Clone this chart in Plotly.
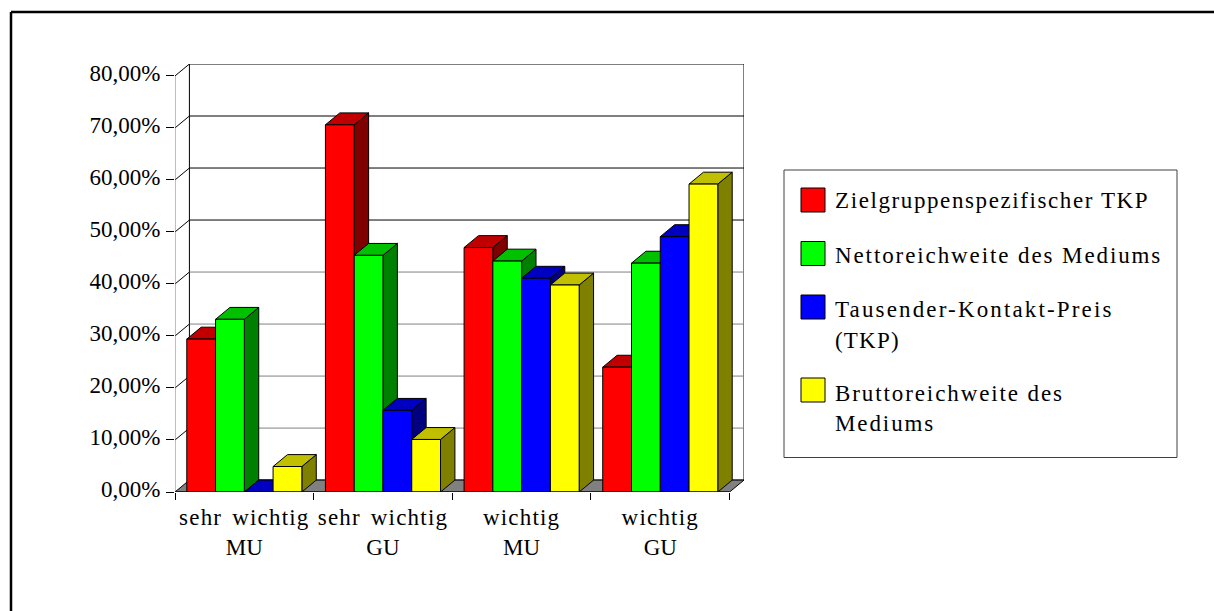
import plotly.graph_objects as go

categories = ["sehr wichtig<br>MU", "sehr wichtig<br>GU", "wichtig<br>MU", "wichtig<br>GU"]
zielgruppen_tkp = [29.4, 70.6, 47.0, 24.0]
nettoreichweite = [33.2, 45.5, 44.4, 44.0]
tkp = [0.0, 15.7, 41.1, 49.1]
bruttoreichweite = [4.9, 10.1, 39.8, 59.2]
series_names = [
    ["Zielgruppenspezifischer TKP"],
    ["Nettoreichweite des Mediums"],
    ["Tausender-Kontakt-Preis", "(TKP)"],
    ["Bruttoreichweite des", "Mediums"],
]
y_ticks = [0, 10, 20, 30, 40, 50, 60, 70, 80]
y_labels = ["0,00%", "10,00%", "20,00%", "30,00%", "40,00%", "50,00%", "60,00%", "70,00%", "80,00%"]

FRONT = ["#FF0000", "#00FF00", "#0000FF", "#FFFF00"]
TOP = ["#C00000", "#00C000", "#0000C0", "#C0C000"]
SIDE = ["#800000", "#008000", "#000080", "#808000"]
FONT = "Liberation Serif"
FS = 23

# geometry of the oblique projection
L, R_BACK, T_BACK, B = 175, 744, 64, 492
CAT_PX = 138.6
PX_PER_UNIT = 5.196
DX = 14.4 / CAT_PX            # depth in category units
DY = 11.9 / PX_PER_UNIT       # depth in value units
GAP = 0.085
BAR_W = (1 - 2 * GAP) / 4


def poly(fig, xs, ys, fill, line="#000000"):
    fig.add_trace(go.Scatter(
        x=xs + xs[:1], y=ys + ys[:1], mode="lines", fill="toself", fillcolor=fill,
        line=dict(color=line, width=1), hoverinfo="skip", showlegend=False, cliponaxis=False))


def seg(fig, xs, ys, color="#000000"):
    fig.add_trace(go.Scatter(
        x=xs, y=ys, mode="lines", line=dict(color=color, width=1),
        hoverinfo="skip", showlegend=False, cliponaxis=False))


fig = go.Figure()

# back wall and floor
poly(fig, [DX, 4 + DX, 4 + DX, DX], [DY, DY, 80 + DY, 80 + DY], "#FFFFFF")
for t in y_ticks[1:-1]:
    c = "#000000" if t >= 50 else "#808080"
    seg(fig, [DX, 4 + DX], [t + DY, t + DY], c)
for t in y_ticks[1:]:
    seg(fig, [0, DX], [t, t + DY])
poly(fig, [0, 4, 4 + DX, DX], [0, 0, DY, DY], "#808080")
seg(fig, [0, 0], [0, 80], "#808080")

# bars, painted left to right
all_values = [zielgruppen_tkp, nettoreichweite, tkp, bruttoreichweite]
for c in range(len(categories)):
    for s, vals in enumerate(all_values):
        v = vals[c]
        x0 = c + GAP + s * BAR_W
        x1 = x0 + BAR_W
        poly(fig, [x1, x1 + DX, x1 + DX, x1], [0, DY, v + DY, v], SIDE[s])
        poly(fig, [x0, x1, x1 + DX, x0 + DX], [v, v, v + DY, v + DY], TOP[s])
        poly(fig, [x0, x1, x1, x0], [0, 0, v, v], FRONT[s])
seg(fig, [0, 4], [0, 0])

W, H = 1214, 611
PW, PH = R_BACK - L, B - T_BACK


def px(x):
    return (x - L) / PW


def py(y):
    return (B - y) / PH


shapes = [
    dict(type="line", xref="paper", yref="paper", x0=px(11), x1=px(11), y0=py(12), y1=py(611),
         line=dict(color="#000000", width=2.5)),
    dict(type="line", xref="paper", yref="paper", x0=px(11), x1=px(1214), y0=py(12), y1=py(12),
         line=dict(color="#000000", width=2.5)),
    dict(type="rect", xref="paper", yref="paper", x0=px(784), x1=px(1177), y0=py(170), y1=py(457.5),
         line=dict(color="#404040", width=1), fillcolor="#FFFFFF"),
]
swatch_y = [188, 241.5, 295, 378]
text_y = [[201], [255], [309, 340], [393, 423]]
annotations = []
for i, name in enumerate(series_names):
    shapes.append(dict(type="rect", xref="paper", yref="paper", x0=px(801), x1=px(825),
                       y0=py(swatch_y[i]), y1=py(swatch_y[i] + 24),
                       line=dict(color="#000000", width=1), fillcolor=FRONT[i]))
    for line, y in zip(name, text_y[i]):
        annotations.append(dict(
            xref="paper", yref="paper", x=px(833), y=py(y), text=line,
            showarrow=False, xanchor="left", yanchor="middle", align="left",
            font=dict(family=FONT, size=FS, color="#000000")))

fig.update_layout(
    width=W, height=H, margin=dict(l=L, r=W - R_BACK, t=T_BACK, b=H - B, pad=0),
    autosize=False, paper_bgcolor="#FFFFFF", plot_bgcolor="#FFFFFF", showlegend=False,
    shapes=shapes, annotations=annotations,
    font=dict(family=FONT, size=FS, color="#000000"),
    xaxis=dict(range=[0, 4 + DX], tickmode="array", tickvals=[0.5, 1.5, 2.5, 3.5],
               ticktext=categories, ticks="", showgrid=False, zeroline=False, showline=False,
               ticklabelstandoff=9, tickangle=0,
               minor=dict(tickmode="array", tickvals=[0, 1, 2, 3, 4], ticks="outside", ticklen=7,
                          tickcolor="#000000", tickwidth=1, showgrid=False)),
    yaxis=dict(range=[0, 80 + DY], tickmode="array", tickvals=y_ticks, ticktext=y_labels,
               ticks="outside", ticklen=8, tickcolor="#000000", tickwidth=1, showgrid=False,
               zeroline=False, showline=False, ticklabelstandoff=1, ticklabelshift=-3),
)

post = """
document.body.style.margin='0';
document.querySelectorAll('.xtick text').forEach(function(t){
  var first=t.querySelector('tspan.line');
  if(first){first.style.letterSpacing='1.2px';first.style.wordSpacing='3px';}
});
var sp=[1.6,1.9,2.15,1.2,1.9,1.9];
document.querySelectorAll('.annotation-text').forEach(function(t,i){t.style.letterSpacing=sp[i]+'px';});
"""
fig.write_html("out.html", post_script=post, config={"displayModeBar": False})
